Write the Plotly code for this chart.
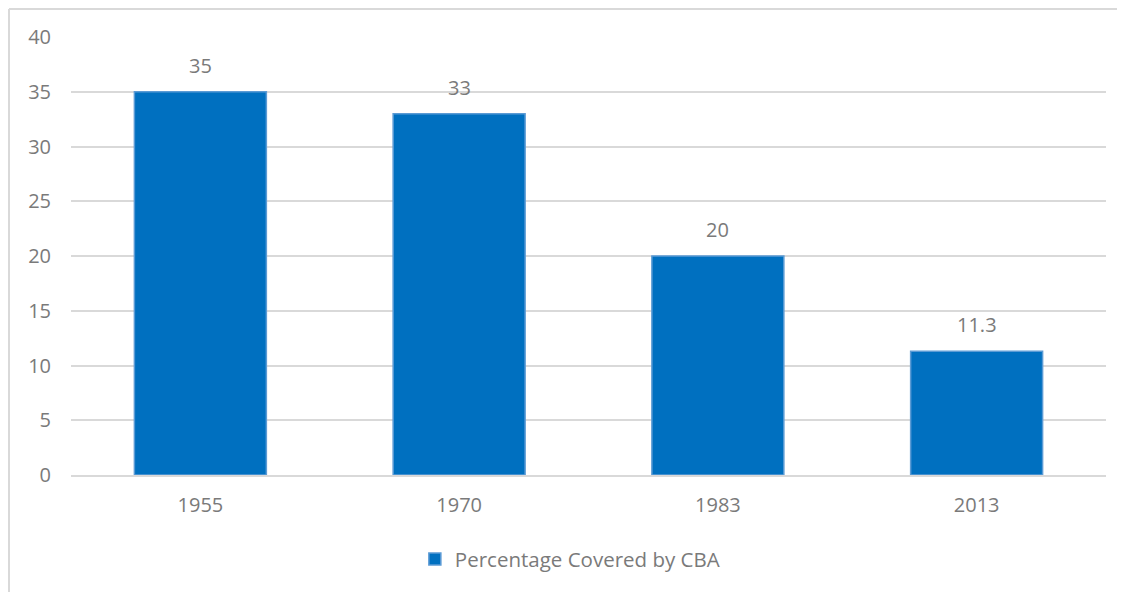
import plotly.graph_objects as go

years = ["1955", "1970", "1983", "2013"]
values = [35, 33, 20, 11.3]
value_labels = ["35", "33", "20", "11.3"]
series_name = "Percentage Covered by CBA"
y_ticks = [0, 5, 10, 15, 20, 25, 30, 35, 40]

FONT = "'Open Sans', Lato, sans-serif"
GRAY = "#7A7A7A"
FS = 20

fig = go.Figure()
fig.add_trace(go.Bar(
    x=years, y=values, name=series_name,
    marker=dict(color="#0070C0", line=dict(color="#5B9BD5", width=1.5)),
    showlegend=True,
))

# data labels: annotations placed at the category index of each bar
for i, (v, lab) in enumerate(zip(values, value_labels)):
    fig.add_annotation(x=i, y=v, xref="x", yref="y", text=lab, showarrow=False,
                       yanchor="bottom", yshift=11,
                       font=dict(family=FONT, size=FS, color=GRAY))

fig.update_layout(
    width=1125, height=592,
    margin=dict(l=63, r=27, t=29, b=125, autoexpand=False),
    paper_bgcolor="white", plot_bgcolor="white",
    bargap=0.49,
    font=dict(family=FONT, size=FS, color=GRAY),
    showlegend=True,
    legend=dict(orientation="h", x=0.482, xanchor="center", y=-0.192, yanchor="middle",
                itemwidth=30, font=dict(family=FONT, size=FS + 0.5, color=GRAY)),
    xaxis=dict(type="category", range=[-0.5, len(years) - 0.5],
               showgrid=False, showline=True, linecolor="#D9D9D9", linewidth=2,
               ticks="outside", ticklen=11, tickcolor="rgba(0,0,0,0)",
               tickfont=dict(family=FONT, size=FS, color=GRAY)),
    yaxis=dict(range=[0, 40], tickvals=y_ticks, showgrid=True, gridcolor="#D9D9D9", gridwidth=2,
               zeroline=False, showline=False,
               ticks="outside", ticklen=15, tickcolor="rgba(0,0,0,0)",
               tickfont=dict(family=FONT, size=FS, color=GRAY)),
)

# chart-area frame (left and top edges visible in the reference)
fig.add_shape(type="line", xref="paper", yref="paper",
              x0=-0.0599, x1=-0.0599, y0=-0.30, y1=1.0639,
              line=dict(color="#D9D9D9", width=2))
fig.add_shape(type="line", xref="paper", yref="paper",
              x0=-0.0599, x1=1.03, y0=1.0639, y1=1.0639,
              line=dict(color="#D9D9D9", width=2))

fig.write_html("out.html")
